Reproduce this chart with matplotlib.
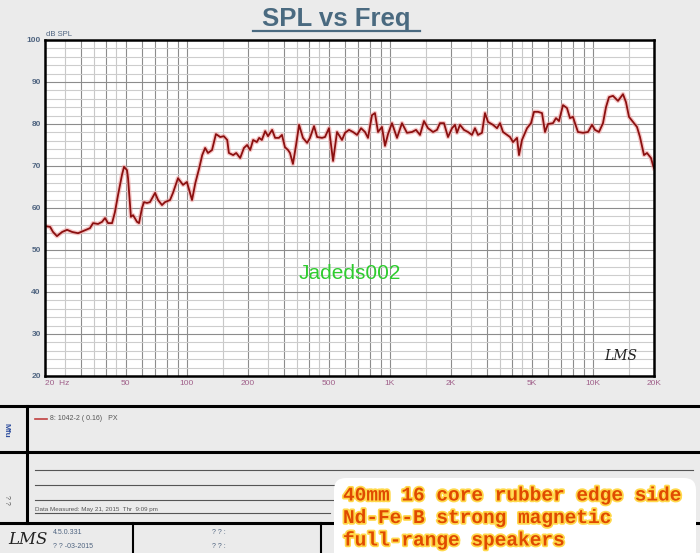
import numpy as np
import matplotlib
matplotlib.use("Agg")
import matplotlib.pyplot as plt
import matplotlib.patheffects as pe
from matplotlib.patches import FancyBboxPatch

# SPL response
freq = [20, 21.2, 21.9, 22.9, 24.3, 25.7, 27.2, 29.1, 30.8, 33.3, 34.5, 36.5, 38.2, 39.5,
        40.9, 42.8, 44.2, 45.8, 47.9, 49.0, 50.7, 51.3, 53.0, 54.3, 56.8, 58.1, 60.1, 61.5,
        63.6, 65.8, 69.7, 72.1, 75.4, 78.0, 82.6, 85.4, 90.4, 95.7, 100, 106, 110, 115,
        119, 123, 127, 133, 139, 146, 152, 158, 161, 169, 175, 183, 191, 198, 205, 212,
        221, 227, 234, 243, 251, 263, 272, 284, 294, 304, 315, 322, 333, 345, 357, 373,
        391, 404, 423, 438, 463, 479, 501, 525, 549, 581, 601, 629, 658, 689, 721, 754,
        780, 816, 844, 874, 914, 946, 979, 1024, 1084, 1147, 1214, 1285, 1345, 1407, 1472,
        1541, 1631, 1706, 1765, 1847, 1933, 2023, 2093, 2140, 2214, 2317, 2425, 2537, 2625,
        2716, 2842, 2941, 3043, 3221, 3370, 3487, 3608, 3775, 3906, 4042, 4229, 4325, 4475,
        4737, 4956, 5128, 5366, 5615, 5809, 6010, 6361, 6581, 6808, 7123, 7453, 7711, 7977,
        8162, 8444, 8939, 9460, 9899, 10241, 10716, 11213, 11602, 12003, 12561, 13293, 14069,
        14555, 15060, 15759, 16489, 17062, 17855, 18473, 19330, 19770, 20000]
spl = [55.7, 55.5, 54.3, 53.3, 54.3, 54.8, 54.3, 54.0, 54.5, 55.2, 56.4, 56.2, 56.7, 57.6,
       56.4, 56.4, 59.0, 63.1, 67.9, 69.8, 69.0, 67.1, 57.9, 58.3, 56.7, 56.4, 60.0, 61.4,
       61.2, 61.4, 63.6, 61.9, 60.7, 61.4, 61.9, 63.6, 67.1, 65.5, 66.2, 61.9, 65.9, 69.5,
       72.6, 74.3, 73.1, 73.8, 77.6, 76.9, 77.1, 76.2, 73.1, 72.6, 73.1, 71.9, 74.3, 75.0,
       73.8, 76.2, 75.7, 76.7, 76.2, 78.3, 77.1, 78.6, 76.7, 76.7, 77.4, 74.5, 73.8, 73.1,
       70.5, 75.0, 79.8, 76.7, 75.5, 76.7, 79.5, 76.9, 76.7, 76.9, 79.0, 71.2, 78.1, 76.2,
       77.9, 78.6, 78.1, 77.4, 79.0, 78.1, 76.7, 82.1, 82.6, 78.1, 79.3, 74.8, 77.6, 80.2,
       76.7, 80.2, 77.9, 78.1, 78.6, 77.4, 80.7, 79.0, 78.1, 78.6, 80.2, 80.2, 76.9, 79.0,
       79.8, 77.9, 79.8, 78.6, 78.1, 77.4, 79.0, 77.4, 77.9, 82.6, 80.5, 79.8, 79.0, 80.2,
       78.1, 77.4, 76.9, 75.7, 76.7, 72.6, 76.2, 79.0, 80.2, 82.9, 82.9, 82.6, 78.1, 80.0,
       80.2, 81.4, 80.7, 84.5, 83.8, 81.4, 81.7, 80.2, 78.1, 77.9, 78.1, 79.8, 78.6, 78.1,
       80.2, 84.0, 86.4, 86.7, 85.5, 87.1, 85.2, 81.7, 80.5, 79.3, 76.9, 72.6, 73.1, 71.9,
       70.2, 69.5]

x_ticks = [20, 50, 100, 200, 500, 1000, 2000, 5000, 10000, 20000]
x_labels = ["20  Hz", "50", "100", "200", "500", "1K", "2K", "5K", "10K", "20K"]
y_ticks = list(range(20, 101, 10))

W, H = 700, 553
bg = "#ebebeb"
fig = plt.figure(figsize=(7, 5.53), dpi=100, facecolor=bg)
plt.rcParams["font.family"] = ["Liberation Sans", "DejaVu Sans"]

# overlay in pixel coords for the page decoration
ov = fig.add_axes([0, 0, 1, 1])
ov.set_xlim(0, W)
ov.set_ylim(H, 0)
ov.axis("off")

ov.text(336, 19, "SPL vs Freq", ha="center", va="center", fontsize=18.5,
        fontweight="bold", color="#4a6a80")
ov.plot([253, 420], [31, 31], color="#4a6a80", lw=1.6)
ov.text(46, 34, "dB SPL", ha="left", va="center", fontsize=5.5, color="#4f6480")

# lower panels
for y in [406, 452, 523]:
    ov.plot([0, W], [y, y], color="black", lw=2.2)
ov.plot([27, 27], [406, 523], color="black", lw=2.2)
ov.plot([133, 133], [523, H], color="black", lw=1.5)
ov.plot([321, 321], [523, H], color="black", lw=1.5)
ov.plot([35, 47], [419, 419], color="#c04040", lw=1.2)
ov.text(50, 419, "8: 1042-2 ( 0.16)   PX", ha="left", va="center", fontsize=5, color="#555555")
ov.text(6, 430, "Mfu", rotation=270, ha="center", va="center", fontsize=6,
        color="#3050a0", fontweight="bold")
ov.text(6, 500, "? ?", rotation=270, ha="center", va="center", fontsize=5, color="#555555")
for y in [470, 485, 500]:
    ov.plot([35, 693], [y, y], color="#555555", lw=0.8)
ov.plot([35, 330], [513, 513], color="#555555", lw=0.8)
ov.text(35, 509, "Data Measured: May 21, 2015  Thr  9:09 pm", ha="left", va="center",
        fontsize=4.5, color="#555555")
ov.text(8, 539, "LMS", ha="left", va="center", fontsize=12, style="italic",
        family="DejaVu Serif", color="#222222")
ov.text(53, 533, "4.5.0.331", ha="left", va="center", fontsize=5, color="#4f6480")
ov.text(53, 546, "? ? -03-2015", ha="left", va="center", fontsize=5, color="#4f6480")
ov.text(212, 533, "? ? :", ha="left", va="center", fontsize=5, color="#4f6480")
ov.text(212, 546, "? ? :", ha="left", va="center", fontsize=5, color="#4f6480")

box = FancyBboxPatch((338, 482), 354, 80, boxstyle="round,pad=4,rounding_size=12",
                     facecolor="white", edgecolor="none", zorder=5)
ov.add_patch(box)
note = ["40mm 16 core rubber edge side", "Nd-Fe-B strong magnetic", "full-range speakers"]
for i, line in enumerate(note):
    ov.text(343, 496 + i * 22.5, line, ha="left", va="center", fontsize=14,
            family="Liberation Mono", fontweight="bold", color="#e04a00", zorder=6,
            path_effects=[pe.withStroke(linewidth=2.5, foreground="#ffd84a")])

# main chart
ax = fig.add_axes([45 / W, 1 - 376 / H, 609 / W, 336 / H])
ax.set_facecolor("white")
ax.set_xscale("log")
ax.set_xlim(20, 20000)
ax.set_ylim(20, 100)

for d in [10, 100, 1000, 10000]:
    for m in [1, 1.5, 2, 2.5, 3, 3.5, 4, 4.5, 5, 6, 7, 8, 9]:
        f = m * d
        if 20 < f < 20000:
            c = "#8c8c8c" if m == int(m) else "#c8c8c8"
            ax.axvline(f, color=c, lw=0.8, zorder=1)
for y in range(22, 100, 2):
    c = "#8c8c8c" if y % 10 == 0 else "#cdcdcd"
    ax.axhline(y, color=c, lw=0.8, zorder=1)

ax.plot(freq, spl, color="#f0a0a0", lw=3.2, alpha=0.6, zorder=3)
ax.plot(freq, spl, color="#8b1010", lw=1.3, zorder=4)

ax.text(0.5, 0.305, "Jadeds002", transform=ax.transAxes, ha="center", va="center",
        fontsize=15, color="#2ecc2e")
ax.text(0.945, 0.06, "LMS", transform=ax.transAxes, ha="center", va="center",
        fontsize=10, style="italic", family="DejaVu Serif", color="#222222")

ax.set_xticks(x_ticks)
ax.set_xticklabels(x_labels)
ax.xaxis.set_minor_locator(matplotlib.ticker.NullLocator())
ax.set_yticks(y_ticks)
ax.tick_params(length=0, pad=3)
for lab in ax.get_xticklabels():
    lab.set_fontsize(6)
    lab.set_color("#a0608a")
ax.get_xticklabels()[0].set_horizontalalignment("left")
ax.get_xticklabels()[0].set_x(19.2)
for lab in ax.get_yticklabels():
    lab.set_fontsize(6)
    lab.set_fontweight("bold")
    lab.set_color("#4f6480")
for s in ax.spines.values():
    s.set_color("black")
    s.set_linewidth(1.8)
    s.set_zorder(5)

fig.savefig("out.png", dpi=100, facecolor=bg)
